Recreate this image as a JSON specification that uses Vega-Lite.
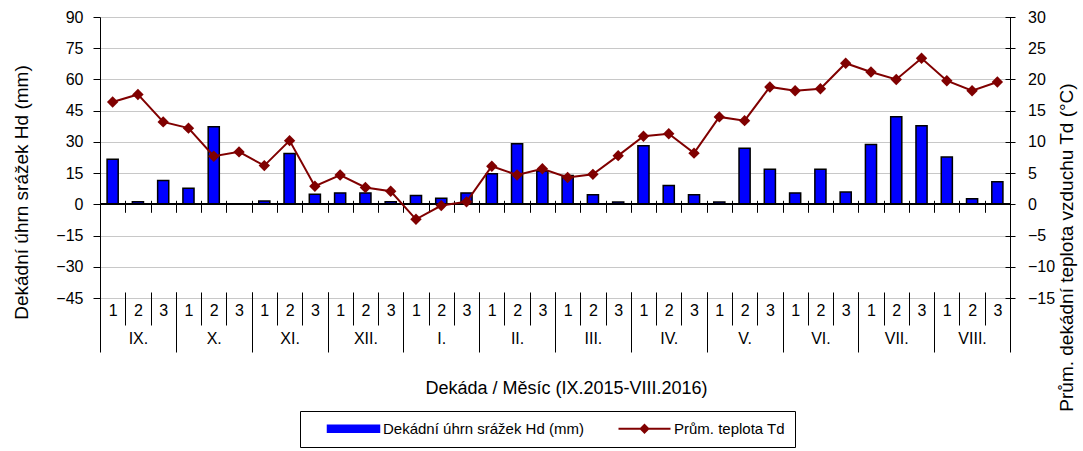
{
  "$schema": "https://vega.github.io/schema/vega-lite/v6.json",
  "width": 910,
  "height": 281,
  "autosize": {"type": "none"},
  "padding": {"left": 100, "top": 17, "right": 73, "bottom": 153},
  "background": "white",
  "config": {
    "font": "Liberation Sans",
    "view": {"stroke": null},
    "axis": {
      "labelFont": "Liberation Sans",
      "titleFont": "Liberation Sans",
      "labelColor": "#000",
      "titleColor": "#000",
      "titleFontWeight": "normal",
      "domainColor": "#000",
      "tickColor": "#000",
      "labelFontSize": 16
    }
  },
  "data": {
    "values": [
      {"m": "IX.", "key": "IX.1", "Hd": 21.7, "Td": 16.4},
      {"m": "IX.", "key": "IX.2", "Hd": 1.3, "Td": 17.6},
      {"m": "IX.", "key": "IX.3", "Hd": 11.5, "Td": 13.2},
      {"m": "X.", "key": "X.1", "Hd": 7.7, "Td": 12.2},
      {"m": "X.", "key": "X.2", "Hd": 37.3, "Td": 7.7},
      {"m": "X.", "key": "X.3", "Hd": 0, "Td": 8.4},
      {"m": "XI.", "key": "XI.1", "Hd": 1.6, "Td": 6.2},
      {"m": "XI.", "key": "XI.2", "Hd": 24.4, "Td": 10.2},
      {"m": "XI.", "key": "XI.3", "Hd": 4.8, "Td": 2.9},
      {"m": "XII.", "key": "XII.1", "Hd": 5.5, "Td": 4.7},
      {"m": "XII.", "key": "XII.2", "Hd": 5.5, "Td": 2.7},
      {"m": "XII.", "key": "XII.3", "Hd": 1.3, "Td": 2.1},
      {"m": "I.", "key": "I.1", "Hd": 4.2, "Td": -2.4},
      {"m": "I.", "key": "I.2", "Hd": 2.9, "Td": -0.2},
      {"m": "I.", "key": "I.3", "Hd": 5.5, "Td": 0.4},
      {"m": "II.", "key": "II.1", "Hd": 14.7, "Td": 6.1},
      {"m": "II.", "key": "II.2", "Hd": 29.1, "Td": 4.7},
      {"m": "II.", "key": "II.3", "Hd": 16.0, "Td": 5.7},
      {"m": "III.", "key": "III.1", "Hd": 13.9, "Td": 4.3},
      {"m": "III.", "key": "III.2", "Hd": 4.6, "Td": 4.8},
      {"m": "III.", "key": "III.3", "Hd": 1.1, "Td": 7.8},
      {"m": "IV.", "key": "IV.1", "Hd": 28.2, "Td": 10.9},
      {"m": "IV.", "key": "IV.2", "Hd": 9.1, "Td": 11.3},
      {"m": "IV.", "key": "IV.3", "Hd": 4.6, "Td": 8.2},
      {"m": "V.", "key": "V.1", "Hd": 1.1, "Td": 14.0},
      {"m": "V.", "key": "V.2", "Hd": 27.0, "Td": 13.4},
      {"m": "V.", "key": "V.3", "Hd": 16.9, "Td": 18.8},
      {"m": "VI.", "key": "VI.1", "Hd": 5.5, "Td": 18.2},
      {"m": "VI.", "key": "VI.2", "Hd": 16.9, "Td": 18.5},
      {"m": "VI.", "key": "VI.3", "Hd": 5.9, "Td": 22.6},
      {"m": "VII.", "key": "VII.1", "Hd": 28.7, "Td": 21.2},
      {"m": "VII.", "key": "VII.2", "Hd": 42.1, "Td": 20.0},
      {"m": "VII.", "key": "VII.3", "Hd": 37.8, "Td": 23.4},
      {"m": "VIII.", "key": "VIII.1", "Hd": 22.7, "Td": 19.8},
      {"m": "VIII.", "key": "VIII.2", "Hd": 2.7, "Td": 18.2},
      {"m": "VIII.", "key": "VIII.3", "Hd": 10.9, "Td": 19.6}
    ]
  },
  "layer": [
    {
      "mark": {"type": "bar", "width": {"band": 0.44}, "stroke": "#000", "strokeWidth": 1.5},
      "encoding": {
        "x": {
          "field": "key", "type": "nominal", "sort": null,
          "scale": {"paddingInner": 0, "paddingOuter": 0},
          "axis": {
            "orient": "bottom", "offset": -6, "tickSize": 33, "domain": false, "grid": false,
            "tickBand": "extent", "labelAngle": 0, "labelBaseline": "middle", "labelPadding": -15,
            "labelExpr": "slice(datum.label, -1)", "labelOverlap": false, "labelBound": false, "title": null
          }
        },
        "y": {
          "field": "Hd", "type": "quantitative",
          "scale": {"domain": [-45, 90], "nice": false, "zero": false},
          "axis": {
            "orient": "left", "values": [-45, -30, -15, 0, 15, 30, 45, 60, 75, 90],
            "grid": true, "gridColor": "#c8c8c8", "gridWidth": 1,
            "tickSize": 7, "labelPadding": 10,
            "title": "Dekádní úhrn srážek Hd (mm)", "titleFontSize": 19,
            "titleX": -79, "titleY": 175, "titleBaseline": "middle", "titleAngle": 270
          }
        },
        "color": {
          "datum": "Dekádní úhrn srážek Hd (mm)",
          "scale": {"domain": ["Dekádní úhrn srážek Hd (mm)", "Prům. teplota Td"], "range": ["#0000ff", "#800000"]},
          "legend": {
            "orient": "none", "legendX": 200, "legendY": 394,
            "direction": "horizontal", "columns": 2, "title": null,
            "symbolSize": 400, "labelOffset": 58, "columnPadding": 17,
            "padding": 10, "strokeColor": "#000", "fillColor": "#fff",
            "labelFontSize": 15, "labelFont": "Liberation Sans", "labelColor": "#000", "labelLimit": 0,
            "labelExpr": "datum.value === 'Prům. teplota Td' ? datum.label + '    ' : datum.label",
            "symbolOpacity": 1,
            "symbolType": {"expr": "datum.value === 'Prům. teplota Td' ? 'M1,0H6.2M3.6,-0.38L3.98,0L3.6,0.38L3.22,0Z' : 'M1,-0.36H6.2V0.36H1Z'"},
            "symbolStrokeColor": {"expr": "datum.value === 'Prům. teplota Td' ? '#800000' : '#000000'"},
            "symbolStrokeWidth": {"expr": "datum.value === 'Prům. teplota Td' ? 2 : 1.5"}
          }
        }
      }
    },
    {
      "mark": {"type": "rule", "color": "#000", "strokeWidth": 1},
      "encoding": {
        "y": {
          "datum": 0, "type": "quantitative",
          "scale": {"domain": [-45, 90], "nice": false, "zero": false},
          "axis": {"orient": "right", "domain": true, "ticks": false, "labels": false, "grid": false, "title": null}
        }
      }
    },
    {
      "mark": {"type": "line", "strokeWidth": 2, "point": {"shape": "diamond", "size": 130, "filled": true, "opacity": 1}},
      "encoding": {
        "x": {
          "field": "key", "type": "nominal", "sort": null,
          "scale": {"paddingInner": 0, "paddingOuter": 0},
          "axis": {
            "orient": "bottom", "offset": -97.7, "tickSize": 12, "domain": false, "grid": false,
            "labels": false, "tickBand": "extent", "title": null
          }
        },
        "y": {
          "field": "Td", "type": "quantitative",
          "scale": {"domain": [-15, 30], "nice": false, "zero": false},
          "axis": {
            "orient": "right", "values": [-15, -10, -5, 0, 5, 10, 15, 20, 25, 30],
            "offset": -5, "domain": false, "grid": false, "tickSize": 10, "labelPadding": 12.5,
            "title": "Prům. dekádní teplota vzduchu Td (°C)", "titleFontSize": 19,
            "titleAngle": 270, "titleX": 61.5, "titleY": 230, "titleBaseline": "middle"
          }
        },
        "color": {"datum": "Prům. teplota Td", "legend": null}
      }
    },
    {
      "mark": {"type": "point", "opacity": 0},
      "encoding": {
        "x": {
          "field": "m", "type": "nominal", "sort": null,
          "scale": {"paddingInner": 0, "paddingOuter": 0},
          "axis": {
            "orient": "bottom", "offset": -6, "tickSize": 60, "domain": false, "grid": false,
            "tickBand": "extent", "labelAngle": 0, "labelBaseline": "middle", "labelPadding": -14,
            "labelOverlap": false, "labelBound": false,
            "title": "Dekáda / Měsíc (IX.2015-VIII.2016)", "titleFontSize": 18,
            "titleX": 466, "titleY": 96, "titleBaseline": "middle"
          }
        }
      }
    }
  ],
  "resolve": {
    "scale": {"x": "independent", "y": "independent"},
    "axis": {"x": "independent", "y": "independent"}
  }
}
